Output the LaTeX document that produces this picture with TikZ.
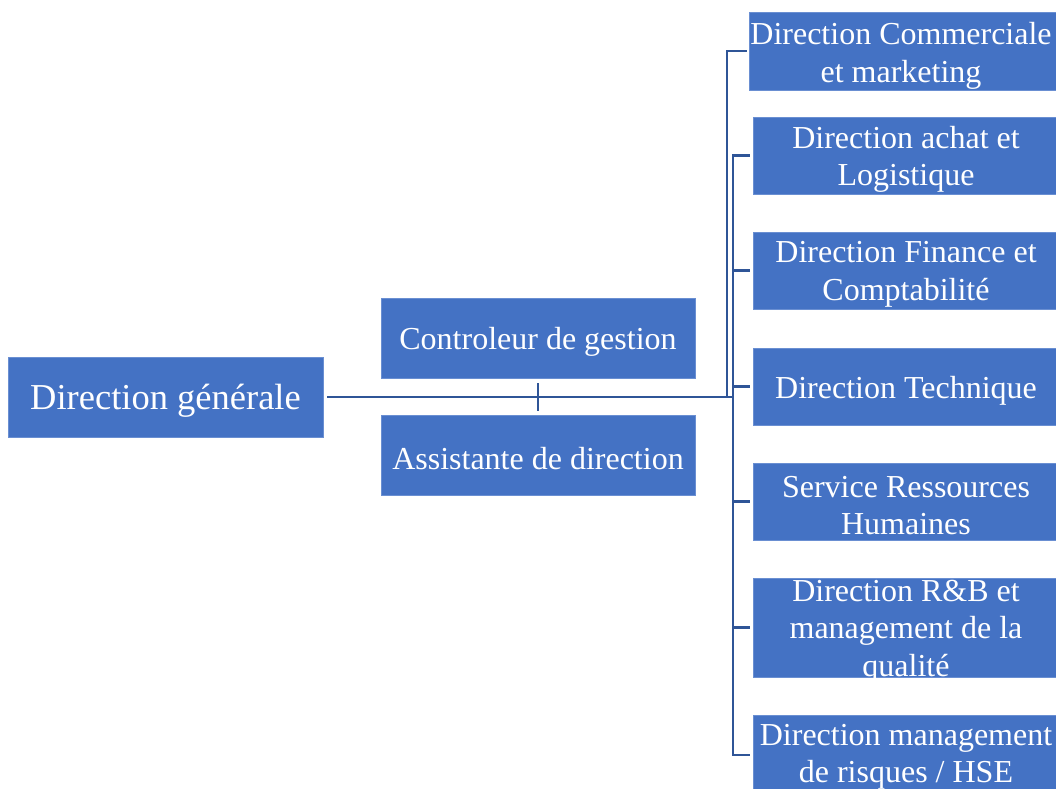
\documentclass[tikz,border=0pt]{standalone}
\usepackage{fontspec}
\setmainfont{Liberation Serif}
\definecolor{boxblue}{HTML}{4472C4}
\definecolor{boxedge}{HTML}{6A8FD2}
\definecolor{linkblue}{HTML}{2F5597}
\begin{document}
\begin{tikzpicture}[x=1pt,y=-1pt,
  box/.style={rectangle, fill=boxblue, draw=boxedge, line width=0.8pt, inner sep=0pt},
  txt/.style={text=white, align=center, inner sep=0pt, yshift=-4pt, font=\fontsize{32}{37.5}\selectfont},
  link/.style={draw=linkblue, line width=2.2pt}]
\clip (0,0) rectangle (1056,788);
\fill[white] (0,0) rectangle (1056,788);
% boxes
\node[box, minimum width=315, minimum height=80] (dg) at (165.5,397) {};
\node[box, minimum width=314, minimum height=80] (cg) at (538,338) {};
\node[box, minimum width=314, minimum height=80] (ad) at (538,455) {};
\node[box, minimum width=310, minimum height=78] (b1) at (904,51) {};
\node[box, minimum width=306, minimum height=77] (b2) at (906,155.5) {};
\node[box, minimum width=306, minimum height=77] (b3) at (906,270.5) {};
\node[box, minimum width=306, minimum height=77] (b4) at (906,386.5) {};
\node[box, minimum width=306, minimum height=77] (b5) at (906,501.5) {};
\node[box, minimum width=306, minimum height=99] (b6) at (906,627.5) {};
\node[box, minimum width=306, minimum height=80] (b7) at (906,755) {};
% texts
\node[txt, font=\fontsize{36.5}{42}\selectfont] (tdg) at (dg) {Direction générale};
\node[txt] (tcg) at (cg) {Controleur de gestion};
\node[txt] (tad) at (ad) {Assistante de direction};
\node[txt] (t1) at (901,52) {Direction Commerciale\\et marketing};
\node[txt] (t2) at (b2) {Direction achat et\\Logistique};
\node[txt] (t3) at (b3) {Direction Finance et\\Comptabilité};
\node[txt] (t4) at (b4) {Direction Technique};
\node[txt] (t5) at (b5) {Service Ressources\\Humaines};
\node[txt] (t6) at (b6) {Direction R\&B et\\management de la\\qualité};
\node[txt] (t7) at (906,753) {Direction management\\de risques / HSE};
% connectors
\coordinate (j1) at (727,397);
\coordinate (j2) at (733,397);
\draw[link] ([xshift=4pt]dg.east) -- (j2);
\draw[link] ([yshift=-5pt]cg.south) -- ([yshift=4pt]ad.north);
\draw[link] (j1) |- ([xshift=-2pt]b1.west);
\draw[link] (j2) |- ([xshift=-3pt]b2.west);
\draw[link] (j2) |- ([xshift=-3pt]b3.west);
\draw[link] (j2) |- ([xshift=-3pt]b4.west);
\draw[link] (j2) |- ([xshift=-3pt]b5.west);
\draw[link] (j2) |- ([xshift=-3pt]b6.west);
\draw[link] (j2) |- ([xshift=-3pt]b7.west);
\end{tikzpicture}
\end{document}
